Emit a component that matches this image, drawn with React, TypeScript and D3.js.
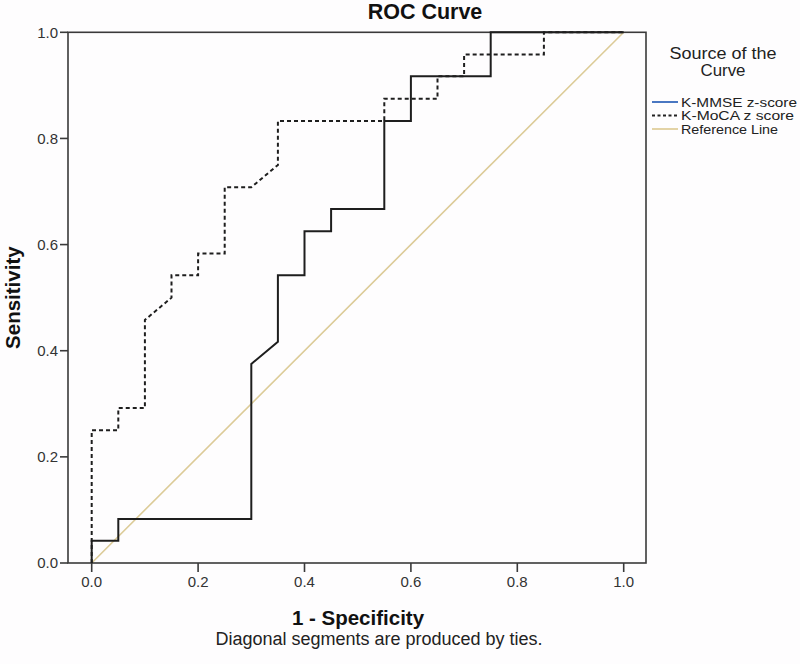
import React from "react";
import * as d3 from "d3";

const W = 800;
const H = 664;

// ROC data: false positive rate (1 - specificity) and sensitivity
const mmseFpr = [0, 0, 0.05, 0.05, 0.3, 0.3, 0.35, 0.35, 0.4, 0.4, 0.45, 0.45, 0.55, 0.55, 0.6, 0.6, 0.75, 0.75, 1.0];
const mmseTpr = [0, 0.042, 0.042, 0.083, 0.083, 0.375, 0.417, 0.542, 0.542, 0.625, 0.625, 0.667, 0.667, 0.833, 0.833, 0.917, 0.917, 1.0, 1.0];

const mocaFpr = [0, 0, 0.05, 0.05, 0.1, 0.1, 0.15, 0.15, 0.2, 0.2, 0.25, 0.25, 0.3, 0.35, 0.35, 0.55, 0.55, 0.65, 0.65, 0.7, 0.7, 0.85, 0.85, 1.0];
const mocaTpr = [0, 0.25, 0.25, 0.292, 0.292, 0.458, 0.5, 0.542, 0.542, 0.583, 0.583, 0.708, 0.708, 0.75, 0.833, 0.833, 0.875, 0.875, 0.917, 0.917, 0.958, 0.958, 1.0, 1.0];

const refFpr = [0, 1];
const refTpr = [0, 1];

const xTicks = [0, 0.2, 0.4, 0.6, 0.8, 1.0];
const yTicks = [0, 0.2, 0.4, 0.6, 0.8, 1.0];

const legendLabels = ["K-MMSE z-score", "K-MoCA z score", "Reference Line"];
const legendTitle = ["Source of the", "Curve"];

const FONT = "Arial, 'Liberation Sans', sans-serif";

export default function App() {
  const x = d3.scaleLinear().domain([0, 1]).range([91.7, 623.7]);
  const y = d3.scaleLinear().domain([0, 1]).range([563, 32.3]);

  const frame = { left: 68, right: 646, top: 32.3, bottom: 563 };

  const toPts = (xs: number[], ys: number[]) => xs.map((v, i) => [v, ys[i]] as [number, number]);
  const line = d3
    .line<[number, number]>()
    .x((d) => x(d[0]))
    .y((d) => y(d[1]));

  const refPath = line(toPts(refFpr, refTpr)) || "";
  const mmsePath = line(toPts(mmseFpr, mmseTpr)) || "";
  const mocaPath = line(toPts(mocaFpr, mocaTpr)) || "";

  const axisColor = "#3a3a3a";
  const legendX0 = 652;
  const legendX1 = 678;
  const legendYs = [102, 115.5, 129];
  const legendLens = [116, 113, 97];
  const legendStyles = [
    { stroke: "#4a77c2", dash: undefined as string | undefined },
    { stroke: "#222", dash: "3,2.5" },
    { stroke: "#e3d3a6", dash: undefined },
  ];
  const titleYs = [59, 76];
  const titleLens = [107, 45];

  return (
    <svg
      width={W}
      height={H}
      style={{ position: "absolute", left: 0, top: 0, display: "block", background: "#fff" }}
      fontFamily={FONT}
    >
      <rect x={0} y={0} width={W} height={H} fill="#fefdfe" />

      {/* Title */}
      <text x={425} y={19} textAnchor="middle" fontSize={21.5} fontWeight="bold" fill="#111">
        ROC Curve
      </text>

      {/* Reference line */}
      <path d={refPath} fill="none" stroke="#dccb98" strokeWidth={1.6} />

      {/* Frame */}
      <rect
        x={frame.left}
        y={frame.top}
        width={frame.right - frame.left}
        height={frame.bottom - frame.top}
        fill="none"
        stroke={axisColor}
        strokeWidth={1.6}
      />

      {/* Curves */}
      <path d={mocaPath} fill="none" stroke="#1e1e1e" strokeWidth={2} strokeDasharray="4,3" />
      <path d={mmsePath} fill="none" stroke="#1e1e1e" strokeWidth={2} />

      {/* Y ticks */}
      {yTicks.map((t) => (
        <g key={"y" + t}>
          <line x1={frame.left - 8} x2={frame.left} y1={y(t)} y2={y(t)} stroke={axisColor} strokeWidth={1.6} />
          <text x={frame.left - 10} y={y(t)} dy="0.35em" textAnchor="end" fontSize={15} fill="#333">
            {d3.format(".1f")(t)}
          </text>
        </g>
      ))}

      {/* X ticks */}
      {xTicks.map((t) => (
        <g key={"x" + t}>
          <line x1={x(t)} x2={x(t)} y1={frame.bottom} y2={frame.bottom + 9} stroke={axisColor} strokeWidth={1.6} />
          <text x={x(t)} y={587} textAnchor="middle" fontSize={15} fill="#333">
            {d3.format(".1f")(t)}
          </text>
        </g>
      ))}

      {/* Axis titles */}
      <text x={358} y={625} textAnchor="middle" fontSize={20.5} fontWeight="bold" fill="#111">
        1 - Specificity
      </text>
      <text
        transform={`translate(20, ${(frame.top + frame.bottom) / 2}) rotate(-90)`}
        textAnchor="middle"
        fontSize={20.5}
        fontWeight="bold"
        fill="#111"
      >
        Sensitivity
      </text>

      {/* Footnote */}
      <text x={379} y={645} textAnchor="middle" fontSize={18} fill="#222">
        Diagonal segments are produced by ties.
      </text>

      {/* Legend */}
      {legendTitle.map((t, i) => (
        <text
          key={t}
          x={723 - titleLens[i] / 2}
          y={titleYs[i]}
          fontSize={16}
          fill="#222"
          textLength={titleLens[i]}
          lengthAdjust="spacingAndGlyphs"
        >
          {t}
        </text>
      ))}
      {legendLabels.map((lab, i) => (
        <g key={lab}>
          <line
            x1={legendX0}
            x2={legendX1}
            y1={legendYs[i]}
            y2={legendYs[i]}
            stroke={legendStyles[i].stroke}
            strokeWidth={2}
            strokeDasharray={legendStyles[i].dash}
          />
          <text
            x={legendX1 + 3}
            y={legendYs[i]}
            dy="0.36em"
            fontSize={13}
            fill="#222"
            textLength={legendLens[i]}
            lengthAdjust="spacingAndGlyphs"
          >
            {lab}
          </text>
        </g>
      ))}
    </svg>
  );
}
